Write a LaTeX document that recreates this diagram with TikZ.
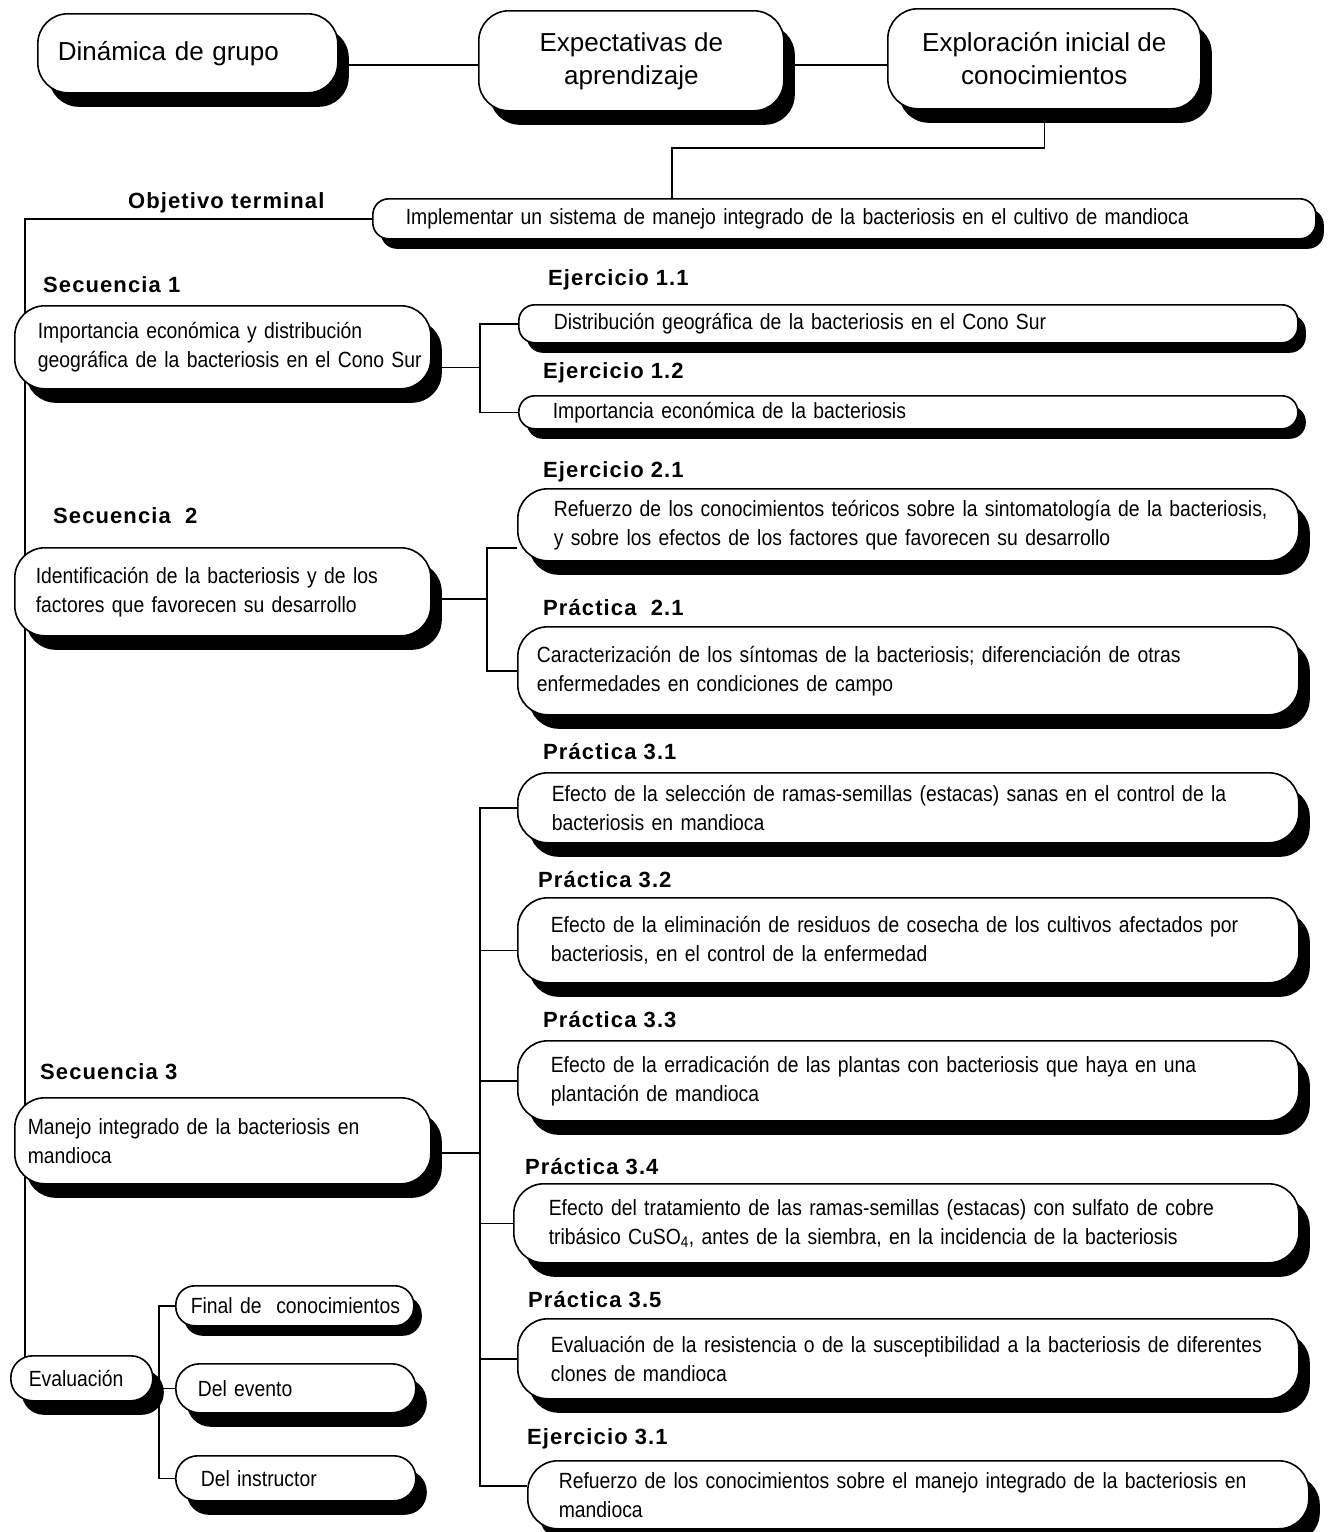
\documentclass[tikz,border=0pt]{standalone}
\usepackage{fontspec}
\setmainfont{Liberation Sans}
\newfontfamily\angosta[FakeStretch=0.88]{Liberation Sans}
\newfontfamily\titulo[LetterSpace=5]{Liberation Sans}
\usepackage{tikz}
\usetikzlibrary{shapes,shadows,backgrounds,positioning}

\begin{document}
\begin{tikzpicture}[x=1pt,y=-1pt,% coordinates in pixels, y goes down
			marco/.style={
				rectangle,draw=black,line width=1.6pt,fill=white,
				anchor=north west,inner ysep=0pt,
				align=left,		% text starts at the left inset
				font=\angosta\fontsize{22}{29}\selectfont,
				execute at begin node={\rightskip=0pt plus 1fil minus 1000pt}	% long lines may run into the inset
			},
			tam/.style n args={3}{minimum width=#1,minimum height=#2,inner xsep=#3,text width=#1-2*#3},
			caja/.style={marco,rounded corners=30pt,
				drop shadow={shadow xshift=11pt,shadow yshift=-14pt,fill=black,opacity=1}},
			fina/.style={marco,rounded corners=16pt,
				drop shadow={shadow xshift=8pt,shadow yshift=-10pt,fill=black,opacity=1}},
			grande/.style={caja,align=center,font=\fontsize{26}{33}\selectfont},
			rotulo/.style={anchor=base west,inner sep=0pt,font=\titulo\bfseries\fontsize{22}{26}\selectfont},
			linea/.style={draw,line width=1.4pt}
		]
		\useasboundingbox (0,0) rectangle (1331,1532);

		% top row
		\node[grande,tam={300pt}{79pt}{20pt},align=left](dina) at (37,13){Dinámica de grupo};
		\node[grande,minimum width=305pt,minimum height=100pt](expe) at (478,10){Expectativas de\\aprendizaje};
		\node[grande,minimum width=313pt,minimum height=100pt](explo) at (887,8){Exploración inicial de\\conocimientos};

		\node[rotulo](lobj) at (128,208){Objetivo terminal};
		\node[fina,tam={943pt}{40pt}{33pt}](obj) at (372,198){Implementar un sistema de manejo integrado de la bacteriosis en el cultivo de mandioca};

		% secuencia 1
		\node[rotulo](ls1) at (43,292){Secuencia 1};
		\node[caja,tam={416pt}{83pt}{23pt}](s1) at (14,305){Importancia económica y distribución\\geográfica de la bacteriosis en el Cono Sur};
		\node[rotulo](le11) at (548,285){Ejercicio 1.1};
		\node[fina,tam={779pt}{38pt}{35pt}](e11) at (518,304){Distribución geográfica de la bacteriosis en el Cono Sur};
		\node[rotulo](le12) at (543,378){Ejercicio 1.2};
		\node[fina,tam={779pt}{33pt}{34pt}](e12) at (518,395){Importancia económica de la bacteriosis};

		% secuencia 2
		\node[rotulo](ls2) at (53,523){Secuencia~~2};
		\node[caja,tam={416pt}{88pt}{21pt}](s2) at (14,547){Identificación de la bacteriosis y de los\\factores que favorecen su desarrollo};
		\node[rotulo](le21) at (543,477){Ejercicio 2.1};
		\node[caja,tam={781pt}{72pt}{36pt}](e21) at (517,488){Refuerzo de los conocimientos teóricos sobre la sintomatología de la bacteriosis,\\y sobre los efectos de los factores que favorecen su desarrollo};
		\node[rotulo](lp21) at (543,615){Práctica~~2.1};
		\node[caja,tam={781pt}{88pt}{19pt}](p21) at (517,626){Caracterización de los síntomas de la bacteriosis; diferenciación de otras\\enfermedades en condiciones de campo};

		% secuencia 3
		\node[rotulo](lp31) at (543,759){Práctica 3.1};
		\node[caja,tam={781pt}{70pt}{34pt}](p31) at (517,772){Efecto de la selección de ramas-semillas (estacas) sanas en el control de la\\bacteriosis en mandioca};
		\node[rotulo](lp32) at (538,887){Práctica 3.2};
		\node[caja,tam={781pt}{85pt}{33pt}](p32) at (517,897){Efecto de la eliminación de residuos de cosecha de los cultivos afectados por\\bacteriosis, en el control de la enfermedad};
		\node[rotulo](lp33) at (543,1027){Práctica 3.3};
		\node[caja,tam={781pt}{80pt}{33pt}](p33) at (517,1040){Efecto de la erradicación de las plantas con bacteriosis que haya en una\\plantación de mandioca};
		\node[rotulo](ls3) at (40,1079){Secuencia 3};
		\node[caja,tam={416pt}{86pt}{13pt}](s3) at (14,1097){Manejo integrado de la bacteriosis en\\mandioca};
		\node[rotulo](lp34) at (525,1174){Práctica 3.4};
		\node[caja,tam={785pt}{79pt}{35pt}](p34) at (513,1183){Efecto del tratamiento de las ramas-semillas (estacas) con sulfato de cobre\\tribásico CuSO\textsubscript{4}, antes de la siembra, en la incidencia de la bacteriosis};
		\node[rotulo](lp35) at (528,1307){Práctica 3.5};
		\node[caja,tam={781pt}{80pt}{33pt}](p35) at (517,1318){Evaluación de la resistencia o de la susceptibilidad a la bacteriosis de diferentes\\clones de mandioca};
		\node[rotulo](le31) at (527,1444){Ejercicio 3.1};
		\node[caja,tam={781pt}{68pt}{31pt}](e31) at (527,1460){Refuerzo de los conocimientos sobre el manejo integrado de la bacteriosis en\\mandioca};

		% evaluacion
		\node[caja,rounded corners=22pt,tam={142pt}{45pt}{18pt}](eval) at (10,1355){Evaluación};
		\node[fina,rounded corners=19pt,tam={238pt}{40pt}{15pt}](fin) at (175,1285){Final de~~conocimientos};
		\node[caja,rounded corners=24pt,tam={240pt}{49pt}{22pt}](dev) at (175,1363){Del evento};
		\node[caja,rounded corners=22pt,tam={240pt}{45pt}{25pt}](dins) at (175,1455){Del instructor};

		\coordinate (fila) at (0,65);
		\coordinate (codo) at (672,148);
		\coordinate (r1) at (480,0);
		\coordinate (r2) at (487,0);
		\coordinate (r3) at (480,0);
		\coordinate (r4) at (159,0);

		\begin{scope}[on background layer]
		\path[linea]
		(dina.east |- fila) -- (expe.west |- fila)
		(expe.east |- fila) -- (explo.west |- fila)
		(explo.south) |- (codo) -- (codo |- obj.north)
		(obj.west) -| ([xshift=15pt]eval.west)
		% secuencia 1
		([yshift=-20pt]s1.east) -- ([yshift=-20pt]s1.east -| r1)
		(e11.west) -| (e12.west -| r1) -- (e12.west)
		% secuencia 2
		([yshift=-7pt]s2.east) -- ([yshift=-7pt]s2.east -| r2)
		([yshift=-23pt]e21.west) -| (p21.west -| r2) -- (p21.west)
		% secuencia 3
		([yshift=-12pt]s3.east) -- ([yshift=-12pt]s3.east -| r3)
		(p31.west) -| ([yshift=9pt]e31.west -| r3) -- ([yshift=9pt]e31.west)
		([yshift=-10pt]p32.west) -- ([yshift=-10pt]p32.west -| r3)
		% evaluacion
		([yshift=-5pt]eval.east) -- ([yshift=-5pt]eval.east -| r4)
		(fin.west) -| (dins.west -| r4) -- (dins.west)
		;
		\foreach \n in {p33,p34,p35}
			\path[linea] (\n.west) -- (\n.west -| r3);
		\path[linea] (dev.west) -- (dev.west -| r4);
		\end{scope}
	\end{tikzpicture}
\end{document}
